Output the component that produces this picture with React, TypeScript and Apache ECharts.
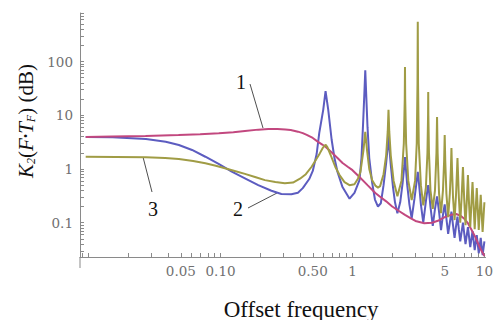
import React, { useEffect, useRef } from "react";
import * as echarts from "echarts";

// Tick labels
const xTickValues = [0.05, 0.1, 0.5, 1, 5, 10];
const xTickLabels = ["0.05", "0.10", "0.50", "1", "5", "10"];
const yTickValues = [0.1, 1, 10, 100];
const yTickLabels = ["0.1", "1", "10", "100"];

// Curve 1 (magenta)
const curve1: [number, number][] = [
  [0.0095, 3.95], [0.015, 4.02], [0.027, 4.1], [0.048, 4.3], [0.07, 4.45], [0.097, 4.6],
  [0.125, 4.85], [0.153, 5.1], [0.193, 5.4], [0.23, 5.53], [0.27, 5.55], [0.31, 5.45],
  [0.34, 5.3], [0.386, 4.95], [0.42, 4.65], [0.45, 4.3], [0.5, 3.78], [0.545, 3.23],
  [0.59, 2.85], [0.627, 2.57], [0.7, 2.0], [0.77, 1.6], [0.841, 1.29], [0.92, 1.1],
  [1.0, 0.95], [1.13, 0.71], [1.3, 0.5], [1.49, 0.357], [1.6, 0.31], [1.8, 0.25],
  [2.0, 0.2], [2.25, 0.165], [2.5, 0.14], [2.75, 0.122], [3.0, 0.108], [3.5, 0.098],
  [4.0, 0.1], [4.5, 0.11], [5.0, 0.127], [5.6, 0.14], [6.1, 0.145], [6.6, 0.135],
  [7.0, 0.12], [7.5, 0.098], [8.0, 0.073], [8.5, 0.055], [9.0, 0.04], [9.5, 0.03],
  [10, 0.024],
];

// Curve 2 (blue)
const curve2: [number, number][] = [
  [0.0095, 3.95], [0.0152, 3.88], [0.0272, 3.6], [0.0384, 3.22], [0.0483, 2.8],
  [0.0608, 2.26], [0.0767, 1.69], [0.0966, 1.24], [0.1216, 0.89], [0.153, 0.67],
  [0.193, 0.5], [0.243, 0.394], [0.289, 0.343], [0.344, 0.338], [0.386, 0.36],
  [0.42, 0.44], [0.47, 0.65], [0.5, 0.92], [0.535, 1.9], [0.56, 4.7],
  [0.6, 12.6], [0.625, 28], [0.655, 12.6], [0.695, 3.5], [0.73, 1.6], [0.77, 0.88],
  [0.84, 0.46], [0.95, 0.28], [1.035, 0.36], [1.13, 0.62], [1.17, 1.6], [1.2, 6],
  [1.23, 25], [1.25, 69], [1.27, 25], [1.3, 6], [1.34, 1.6], [1.41, 0.55], [1.48, 0.27],
  [1.56, 0.2], [1.64, 0.23], [1.72, 0.5], [1.8, 1.3], [1.85, 2.6], [1.875, 4.3],
  [1.9, 2.6], [1.95, 1.2], [2.03, 0.45], [2.1, 0.24], [2.19, 0.15], [2.3, 0.24],
  [2.4, 0.55], [2.47, 1.15], [2.5, 1.67], [2.53, 1.15], [2.6, 0.5], [2.7, 0.22],
  [2.81, 0.12], [2.95, 0.28], [3.08, 0.65], [3.125, 0.88], [3.17, 0.65], [3.3, 0.22],
  [3.44, 0.1], [3.6, 0.25], [3.72, 0.45], [3.75, 0.5], [3.78, 0.45], [3.9, 0.2],
  [4.06, 0.087], [4.22, 0.18], [4.375, 0.31], [4.53, 0.16], [4.69, 0.073], [4.85, 0.14],
  [5.0, 0.22], [5.15, 0.12], [5.31, 0.062], [5.47, 0.1], [5.625, 0.16], [5.78, 0.09],
  [5.94, 0.052], [6.09, 0.085], [6.25, 0.13], [6.4, 0.075], [6.56, 0.045], [6.875, 0.1],
  [7.19, 0.04], [7.5, 0.083], [7.81, 0.035], [8.125, 0.07], [8.44, 0.031], [8.75, 0.059],
  [9.06, 0.027], [9.375, 0.052], [9.69, 0.025], [10, 0.045],
];

// Curve 3 (olive)
const curve3: [number, number][] = [
  [0.0095, 1.69], [0.0272, 1.65], [0.038, 1.6], [0.0483, 1.53], [0.062, 1.41],
  [0.0767, 1.28], [0.092, 1.15], [0.108, 1.03], [0.13, 0.91], [0.153, 0.81],
  [0.185, 0.7], [0.217, 0.62], [0.26, 0.57], [0.307, 0.54], [0.354, 0.56],
  [0.4, 0.66], [0.443, 0.8], [0.49, 1.1], [0.527, 1.47], [0.565, 1.95], [0.595, 2.46],
  [0.612, 2.7], [0.627, 2.8], [0.645, 2.55], [0.683, 1.82], [0.74, 1.1],
  [0.798, 0.77], [0.87, 0.57], [0.949, 0.5], [1.035, 0.52], [1.1, 0.66], [1.149, 0.88],
  [1.21, 2.2], [1.25, 4.9], [1.29, 2.2], [1.34, 1.0], [1.41, 0.62], [1.49, 0.49],
  [1.56, 0.45], [1.62, 0.48], [1.72, 0.8], [1.8, 1.8], [1.85, 5], [1.875, 12.6],
  [1.9, 5], [1.95, 1.8], [2.05, 0.6], [2.19, 0.31], [2.35, 0.6], [2.45, 3], [2.49, 20],
  [2.5, 79], [2.51, 20], [2.55, 3], [2.65, 0.6], [2.81, 0.265], [2.98, 0.6], [3.07, 3],
  [3.11, 40], [3.125, 550], [3.14, 40], [3.18, 3], [3.3, 0.5], [3.44, 0.21], [3.6, 0.45],
  [3.7, 2], [3.74, 10], [3.75, 27], [3.76, 10], [3.8, 2], [3.9, 0.4], [4.06, 0.18],
  [4.22, 0.4], [4.33, 2], [4.375, 9.3], [4.42, 2], [4.53, 0.35], [4.69, 0.15],
  [4.85, 0.4], [4.95, 1.4], [5.0, 4.3], [5.05, 1.4], [5.15, 0.35], [5.31, 0.127],
  [5.47, 0.35], [5.57, 1.0], [5.625, 2.46], [5.68, 1.0], [5.78, 0.3], [5.94, 0.112],
  [6.1, 0.35], [6.25, 1.6], [6.4, 0.3], [6.56, 0.1], [6.72, 0.3], [6.875, 1.09],
  [7.03, 0.27], [7.19, 0.09], [7.35, 0.25], [7.5, 0.77], [7.65, 0.22], [7.81, 0.083],
  [8.125, 0.57], [8.44, 0.076], [8.75, 0.44], [9.06, 0.073], [9.375, 0.33],
  [9.69, 0.067], [10, 0.24],
];

function minorTicks(lo: number, hi: number): number[] {
  const out: number[] = [];
  for (let d = -3; d <= 3; d++) {
    for (let m = 1; m <= 9; m++) {
      const v = parseFloat((m * Math.pow(10, d)).toPrecision(6));
      if (v >= lo && v <= hi) out.push(v);
    }
  }
  return out;
}

function nearestLabel(v: number, values: number[], labels: string[]): string {
  let best = 0;
  values.forEach((t, i) => {
    if (Math.abs(Math.log10(t) - Math.log10(v)) < Math.abs(Math.log10(values[best]) - Math.log10(v))) best = i;
  });
  return labels[best];
}

export default function App() {
  const ref = useRef<HTMLDivElement>(null);
  useEffect(() => {
    if (!ref.current) return;
    const chart = echarts.init(ref.current, undefined, { renderer: "svg" });
    const axisGray = "#8a8a8a";
    const serif = "'Liberation Serif', 'Times New Roman', serif";
    const tickFont = "'DejaVu Serif', serif";
    const lineSeries = (data: [number, number][], color: string) => ({
      type: "line",
      data,
      symbol: "none",
      showSymbol: false,
      smooth: false,
      lineStyle: { color, width: 2 },
      itemStyle: { color },
      silent: true,
    });
    chart.setOption({
      animation: false,
      backgroundColor: "#ffffff",
      grid: { left: 80, top: 13, width: 409, height: 244 },
      xAxis: {
        type: "log",
        logBase: 10,
        min: 0.0086,
        max: 10.2,
        splitLine: { show: false },
        axisLine: { show: true, onZero: false, lineStyle: { color: axisGray, width: 1 } },
        axisTick: {
          show: true,
          inside: true,
          length: 4,
          customValues: minorTicks(0.0086, 10.2),
          lineStyle: { color: axisGray },
        },
        axisLabel: {
          customValues: xTickValues,
          margin: 7,
          color: "#707070",
          fontFamily: tickFont,
          fontSize: 13.5,
          formatter: (v: number) => nearestLabel(v, xTickValues, xTickLabels),
        },
      },
      yAxis: {
        type: "log",
        logBase: 10,
        min: 0.023,
        max: 800,
        splitLine: { show: false },
        axisLine: { show: true, onZero: false, lineStyle: { color: axisGray, width: 1 } },
        axisTick: {
          show: true,
          inside: true,
          length: 4,
          customValues: minorTicks(0.023, 800),
          lineStyle: { color: axisGray },
        },
        axisLabel: {
          customValues: yTickValues,
          margin: 7,
          color: "#707070",
          fontFamily: tickFont,
          fontSize: 13.5,
          formatter: (v: number) => nearestLabel(v, yTickValues, yTickLabels),
        },
      },
      series: [
        lineSeries(curve2, "#5c5cc0"),
        lineSeries(curve1, "#c2487f"),
        lineSeries(curve3, "#a09c45"),
      ],
      graphic: [
        { type: "line", shape: { x1: 80, y1: 257, x2: 80, y2: 268 }, style: { stroke: axisGray, lineWidth: 1 } },
        { type: "line", shape: { x1: 250, y1: 84, x2: 263, y2: 128 }, style: { stroke: "#222", lineWidth: 0.8 } },
        { type: "line", shape: { x1: 152, y1: 192, x2: 143, y2: 157 }, style: { stroke: "#222", lineWidth: 0.8 } },
        { type: "line", shape: { x1: 248, y1: 208, x2: 277, y2: 193 }, style: { stroke: "#222", lineWidth: 0.8 } },
        { type: "text", x: 241, y: 82, style: { text: "1", font: `20px ${serif}`, fill: "#111", align: "center", verticalAlign: "middle" } },
        { type: "text", x: 153, y: 209, style: { text: "3", font: `20px ${serif}`, fill: "#111", align: "center", verticalAlign: "middle" } },
        { type: "text", x: 238, y: 209, style: { text: "2", font: `20px ${serif}`, fill: "#111", align: "center", verticalAlign: "middle" } },
        { type: "text", x: 301, y: 309, style: { text: "Offset frequency", font: `23px ${serif}`, fill: "#111", align: "center", verticalAlign: "middle" } },
        {
          type: "text",
          x: 26,
          y: 121,
          rotation: Math.PI / 2,
          style: {
            text: "{i|K}{s|2}{n|(}{i|F}{d|•}{i|T}{s|F}{n|) (dB)}",
            align: "center",
            verticalAlign: "middle",
            fill: "#111",
            rich: {
              i: { fontFamily: serif, fontSize: 21, fontStyle: "italic", lineHeight: 22, fill: "#111" },
              n: { fontFamily: serif, fontSize: 21, lineHeight: 22, fill: "#111" },
              d: { fontFamily: serif, fontSize: 12, lineHeight: 22, fill: "#111" },
              s: { fontFamily: serif, fontSize: 12, fontStyle: "italic", lineHeight: 9, verticalAlign: "bottom", fill: "#111" },
            },
          },
        },
      ],
    });
    return () => chart.dispose();
  }, []);
  return <div ref={ref} style={{ width: 496, height: 320, position: "absolute", left: 0, top: 0 }} />;
}
